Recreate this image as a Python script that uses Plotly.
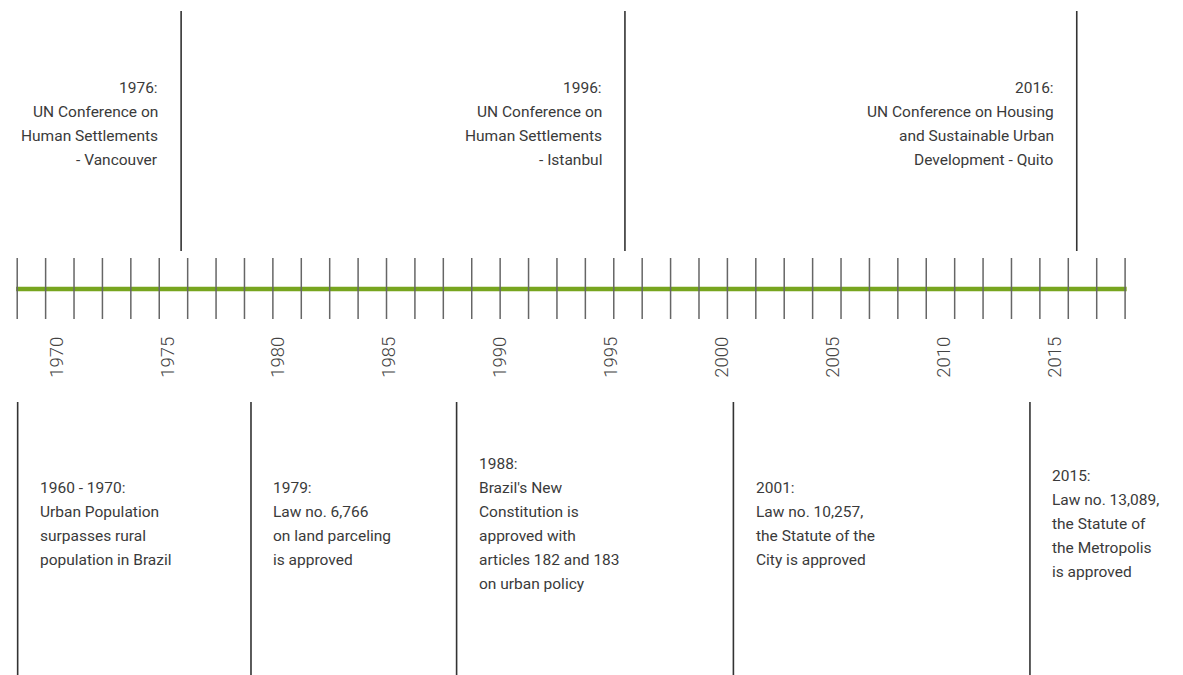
import plotly.graph_objects as go

# ---- data ----
year_ticks = [1970, 1975, 1980, 1985, 1990, 1995, 2000, 2005, 2010, 2015]
timeline_span = [1968.17, 2018.24]
tick_span = [1968.22, 2018.17]
n_tick_marks = 40

top_event_pos = [1975.61, 1995.62, 2015.99]
top_event_text = [
    "1976:<br>UN Conference on<br>Human Settlements<br>- Vancouver",
    "1996:<br>UN Conference on<br>Human Settlements<br>- Istanbul",
    "2016:<br>UN Conference on Housing<br>and Sustainable Urban<br>Development - Quito",
]

bottom_event_pos = [1968.24, 1978.76, 1988.03, 2000.51, 2013.88]
bottom_event_text = [
    "1960 - 1970:<br>Urban Population<br>surpasses rural<br>population in Brazil",
    "1979:<br>Law no. 6,766<br>on land parceling<br>is approved",
    "1988:<br>Brazil's New<br>Constitution is<br>approved with<br>articles 182 and 183<br>on urban policy",
    "2001:<br>Law no. 10,257,<br>the Statute of the<br>City is approved",
    "2015:<br>Law no. 13,089,<br>the Statute of<br>the Metropolis<br>is approved",
]

# ---- style ----
W, H = 1183, 675
X_RANGE = [1967.444, 1967.444 + W / 22.18]
GREEN = "#77a51f"
TICK_COLOR = "#666666"
LINE_COLOR = "#333333"
TEXT_COLOR = "#3a3a3a"
TEXT_FONT = dict(family="Roboto, Liberation Sans, sans-serif", size=15.5, color=TEXT_COLOR, weight=400)
LINE_PITCH = 24

TL_Y = 289
TICK_Y = (258, 319)
TOP_Y = (11, 251)
BOT_Y = (402, 676)
TOP_TEXT_MID = 124
BOT_TEXT_MID = 524

fig = go.Figure()

# green timeline
fig.add_trace(go.Scatter(
    x=timeline_span, y=[TL_Y, TL_Y], mode="lines",
    line=dict(color=GREEN, width=4.5), hoverinfo="skip", showlegend=False))

# tick marks (evenly spaced along the timeline)
step = (tick_span[1] - tick_span[0]) / (n_tick_marks - 1)
tx, ty = [], []
for i in range(n_tick_marks):
    xv = tick_span[0] + i * step
    tx += [xv, xv, None]
    ty += [TICK_Y[0], TICK_Y[1], None]
fig.add_trace(go.Scatter(
    x=tx, y=ty, mode="lines", line=dict(color=TICK_COLOR, width=1.5),
    hoverinfo="skip", showlegend=False))

# event lines
ex, ey = [], []
for p in top_event_pos:
    ex += [p, p, None]
    ey += [TOP_Y[0], TOP_Y[1], None]
for p in bottom_event_pos:
    ex += [p, p, None]
    ey += [BOT_Y[0], BOT_Y[1], None]
fig.add_trace(go.Scatter(
    x=ex, y=ey, mode="lines", line=dict(color=LINE_COLOR, width=1.6),
    hoverinfo="skip", showlegend=False))


def add_block(xpos, text, mid, anchor, shift):
    lines = text.split("<br>")
    n = len(lines)
    for i, ln in enumerate(lines):
        fig.add_annotation(x=xpos, y=mid + (i - (n - 1) / 2) * LINE_PITCH,
                           xref="x", yref="y", text=ln, showarrow=False,
                           xanchor=anchor, yanchor="middle", align=anchor,
                           xshift=shift, font=TEXT_FONT)


for p, t in zip(top_event_pos, top_event_text):
    add_block(p, t, TOP_TEXT_MID, "right", -21)
for p, t in zip(bottom_event_pos, bottom_event_text):
    add_block(p, t, BOT_TEXT_MID, "left", 20.5)

fig.update_layout(
    width=W, height=H,
    margin=dict(l=0, r=0, t=0, b=0),
    paper_bgcolor="white", plot_bgcolor="white",
    xaxis=dict(range=X_RANGE, tickvals=year_ticks, ticktext=[str(v) for v in year_ticks],
               tickangle=-90, showgrid=False, zeroline=False, showline=False,
               ticks="", anchor="free", position=(H - 332) / H,
               tickfont=dict(family="Roboto, Liberation Sans, sans-serif", size=18.5,
                             color="#444444", weight=300)),
    yaxis=dict(range=[H, 0], visible=False, showgrid=False, zeroline=False),
    showlegend=False,
)

fig.write_html("out.html", config={"displayModeBar": False},
               post_script="document.body.style.margin='0';")
